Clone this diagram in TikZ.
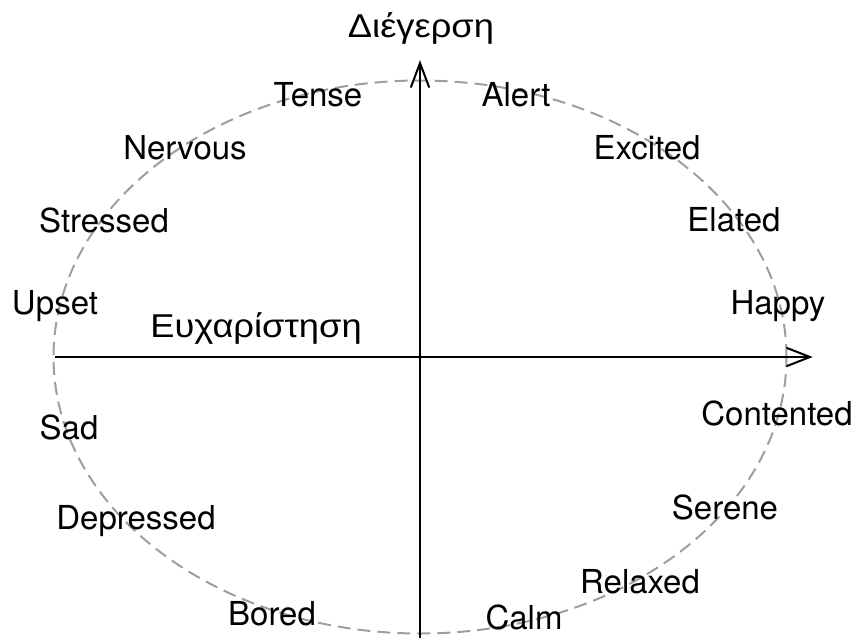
\documentclass[tikz,border=0pt]{standalone}
\usepackage{fontspec}
\setmainfont{TeX Gyre Heros}
\newfontfamily\greekfont[Script=Greek,FakeStretch=1.1]{Liberation Sans}
\begin{document}
\begin{tikzpicture}[x=1pt,y=-1pt,
  axis/.style={line width=2pt},
  barb/.style={line width=2pt,line cap=round,line join=miter},
  ring/.style={draw=black!38,line width=2pt,dash pattern=on 13pt off 7pt},
  lbl/.style={font=\fontsize{33}{38}\selectfont,inner sep=0pt},
  glbl/.style={font=\fontsize{33}{38}\selectfont\greekfont,inner sep=0pt}]
\useasboundingbox (0,0) rectangle (856,637);
% dashed circumplex
\draw[ring] (420,357) ellipse [x radius=366.5, y radius=-276.5];
% axes
\coordinate (xs) at (55,357);
\coordinate (xe) at (810,357);
\coordinate (ys) at (420,640);
\coordinate (ye) at (420,63);
\draw[axis] (xs) -- (xe);
\draw[axis] (ys) -- (ye);
% open arrow heads
\draw[barb] (xe) ++(-23,-9) -- (xe) -- ++(-23,9);
\draw[barb] (ye) ++(-9,24) -- (ye) -- ++(9,24);
% axis titles
\node[glbl] (arousal) at (421,28) {Διέγερση};
\node[glbl] (valence) at (256,328) {Ευχαρίστηση};
% affect words
\node[lbl] (tense) at (318,95) {Tense};
\node[lbl] (alert) at (516,95) {Alert};
\node[lbl] (nervous) at (185,148) {Nervous};
\node[lbl] (excited) at (647,148) {Excited};
\node[lbl] (stressed) at (104,220) {Stressed};
\node[lbl] (elated) at (734,220) {Elated};
\node[lbl] (upset) at (55,306) {Upset};
\node[lbl] (happy) at (778,306) {Happy};
\node[lbl] (sad) at (69,427) {Sad};
\node[lbl] (contented) at (777,413) {Contented};
\node[lbl] (depressed) at (136,521) {Depressed};
\node[lbl] (serene) at (725,507) {Serene};
\node[lbl] (relaxed) at (640,582) {Relaxed};
\node[lbl] (bored) at (272,614) {Bored};
\node[lbl] (calm) at (524,617) {Calm};
\end{tikzpicture}
\end{document}
